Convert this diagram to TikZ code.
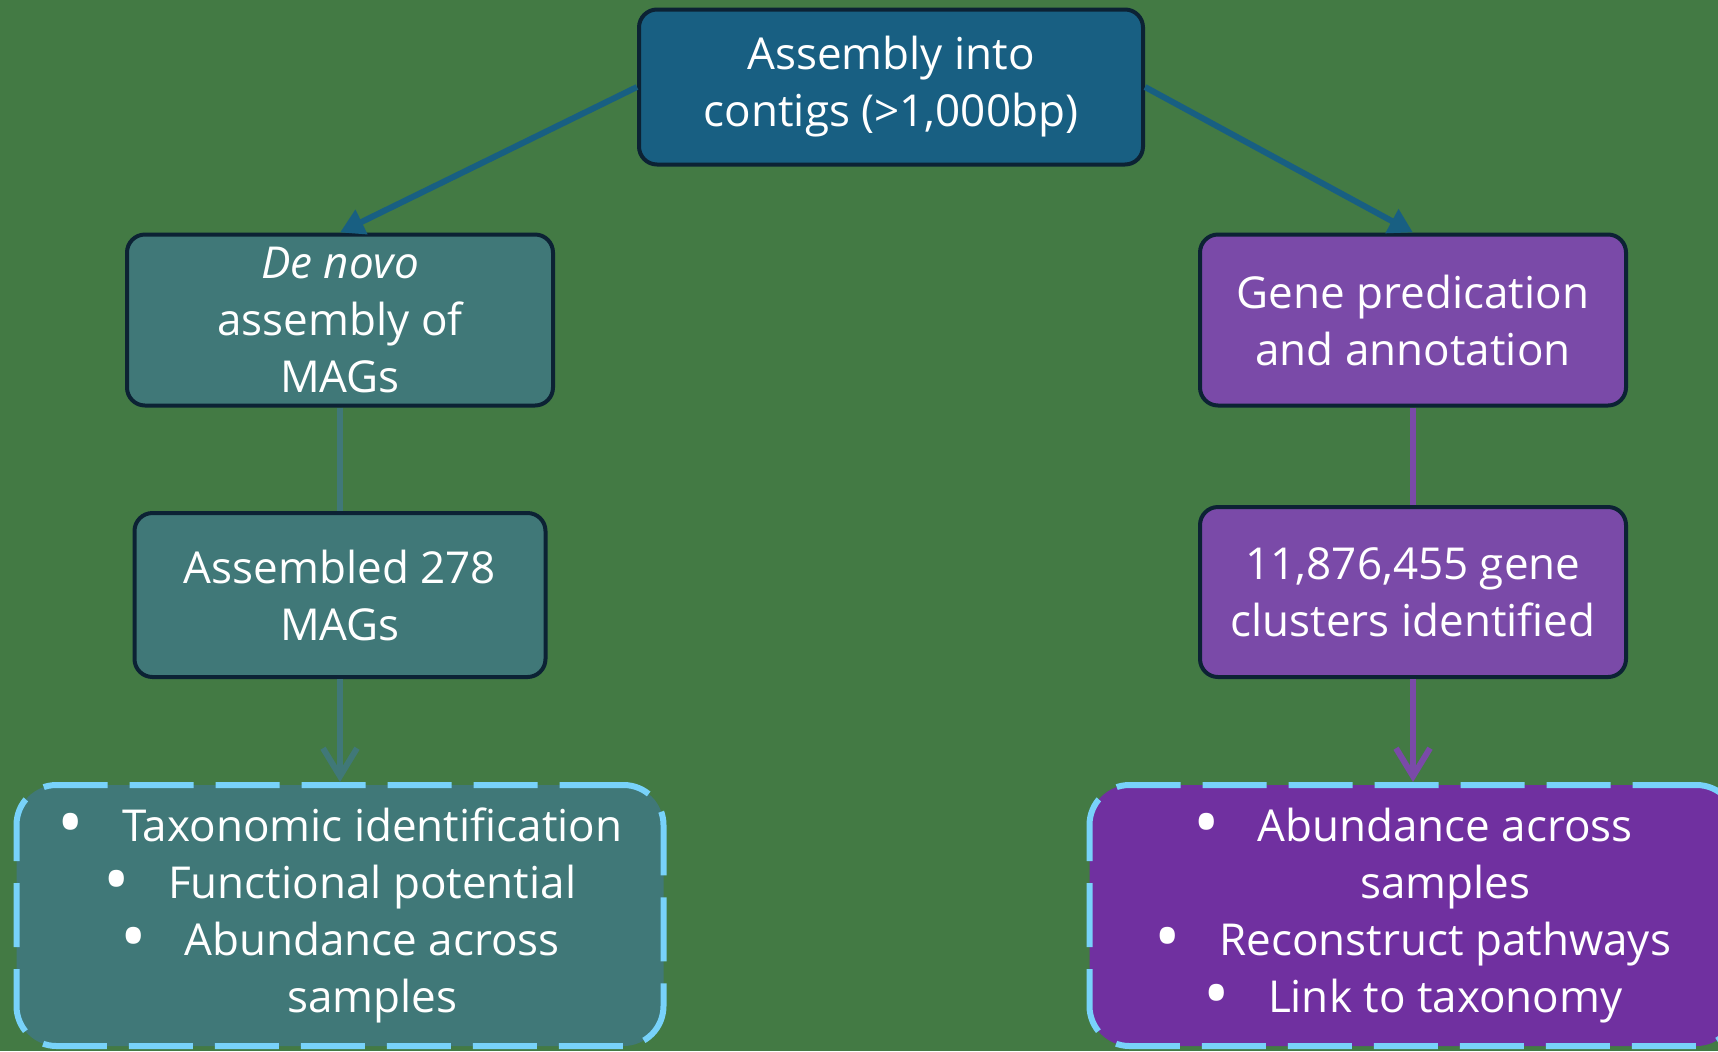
\documentclass[tikz,border=0pt]{standalone}
\usepackage{fontspec}
\setmainfont{Open Sans}
\usepackage{xcolor}
\usetikzlibrary{positioning, arrows.meta}

\definecolor{bggreen}{RGB}{67,122,68}
\definecolor{topblue}{RGB}{24,95,130}
\definecolor{tealbox}{RGB}{64,120,120}
\definecolor{purplebox}{RGB}{122,74,168}
\definecolor{purpledeep}{RGB}{112,48,160}
\definecolor{dashblue}{RGB}{120,210,250}
\definecolor{edgenavy}{RGB}{12,34,52}

\newcommand{\bitem}{\raisebox{-3pt}{\scalebox{1.6}{\textbullet}}\hspace{19pt}}

\begin{document}
\begin{tikzpicture}[x=0.5pt,y=-0.5pt,node distance=137.5pt,font=\fontsize{22}{28.5}\selectfont]
    \tikzstyle{base} = [rectangle, rounded corners=9pt,
draw=edgenavy,
line width=2pt,
text=white,
align=center,
inner sep=0pt]

\tikzstyle{contigbox} = [base, fill=topblue, minimum width=252pt, minimum height=77.5pt]
\tikzstyle{magbox} = [base, fill=tealbox, minimum width=213pt, minimum height=85.5pt]
\tikzstyle{genebox} = [base, fill=purplebox, minimum width=213pt, minimum height=85.5pt]

\tikzstyle{outcome} = [rectangle, rounded corners=20pt,
draw=dashblue,
line width=3pt,
dash pattern=on 32pt off 11pt,
text=white,
align=center,
minimum width=323.5pt,
minimum height=130.5pt]
\tikzstyle{arrow} = [line width=3pt,-{Triangle[length=12pt,width=13pt]}]
\tikzstyle{barb} = [line width=3pt,-{Straight Barb[length=14pt,width=17pt]}]

\fill [bggreen] (0,0) rectangle (1718,1051);
\useasboundingbox (0,0) rectangle (1718,1051);

\node (contigs) [contigbox] at (891,87) {Assembly into\\contigs (>1,000bp)};
\node (denovo) [magbox] at (340,320) {\textit{De novo}\\assembly of\\MAGs};
\node (genes) [genebox, right of=denovo, node distance=536.5pt] {Gene predication\\and annotation};
\node (mags) [magbox, below of=denovo, minimum width=205.5pt, minimum height=82pt] {Assembled 278\\MAGs};
\node (clusters) [genebox, below of=genes, node distance=136pt, minimum height=85pt] {11,876,455 gene\\clusters identified};
\node (magout) [outcome, fill=tealbox, below of=mags, node distance=160.25pt] {\bitem Taxonomic identification\\
\bitem Functional potential\\
\bitem Abundance across\\
\phantom{\bitem}samples};
\node (geneout) [outcome, fill=purpledeep, below of=clusters, node distance=161.75pt] {\bitem Abundance across\\
\phantom{\bitem}samples\\
\bitem Reconstruct pathways\\
\bitem Link to taxonomy};

\draw [arrow, color=topblue] (contigs.west) -- (denovo.north);
\draw [arrow, color=topblue] (contigs.east) -- (genes.north);
\draw [line width=3pt, color=tealbox] (denovo) -- (mags);
\draw [barb, color=tealbox] (mags) -- (magout);
\draw [line width=3pt, color=purplebox] (genes) -- (clusters);
\draw [barb, color=purplebox] (clusters) -- (geneout);

\end{tikzpicture}
\end{document}
